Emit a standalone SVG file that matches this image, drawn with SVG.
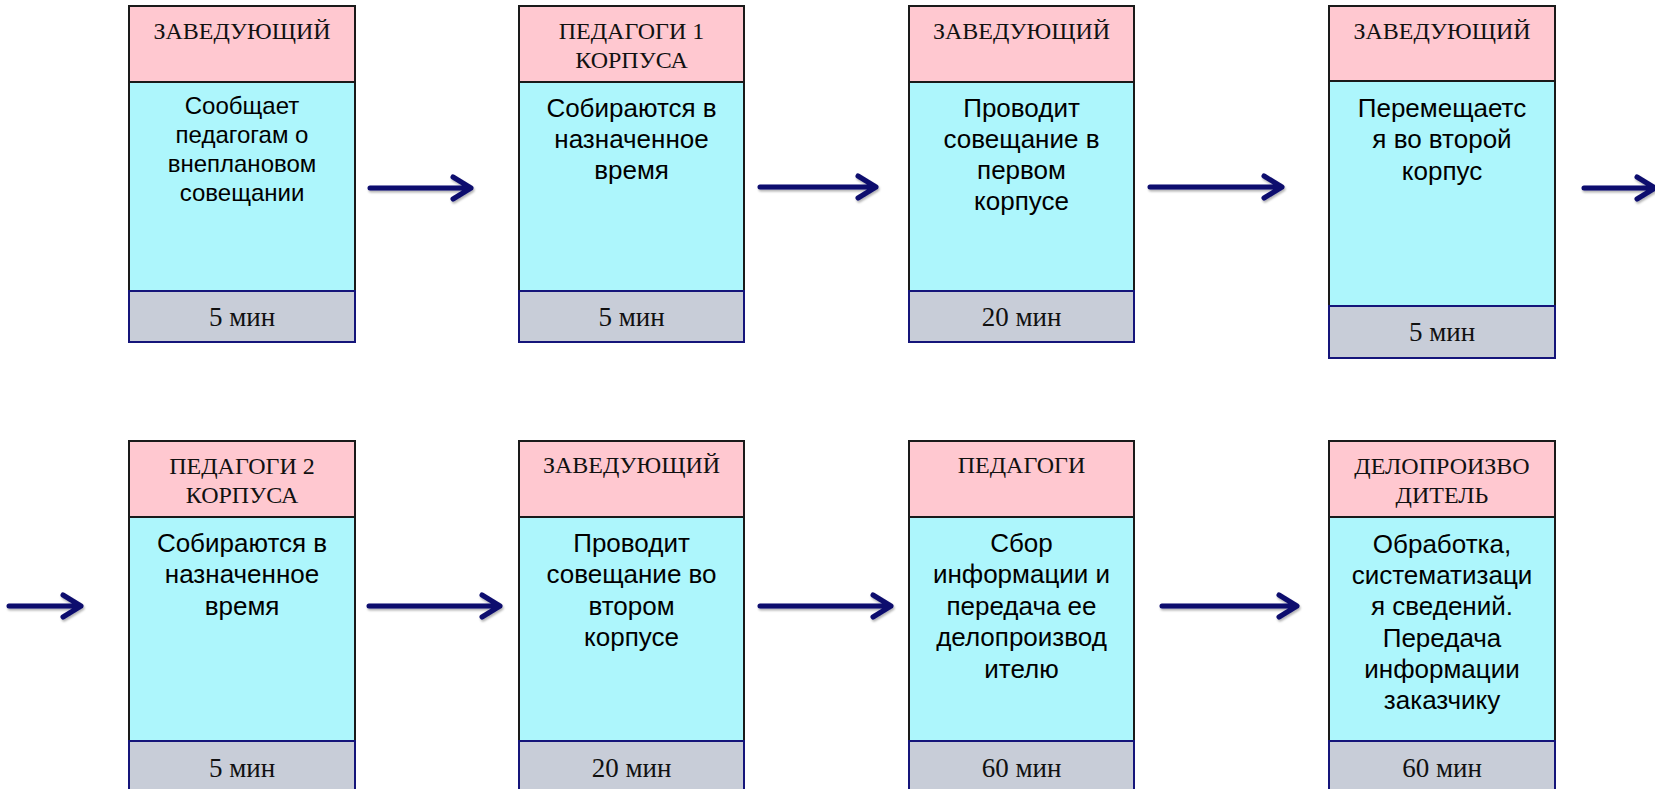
<svg xmlns="http://www.w3.org/2000/svg" width="1655" height="789" viewBox="0 0 1655 789">
<defs>
<style>
.hd{fill:#FFC8D0;stroke:#1a1a1a;stroke-width:2}
.bd{fill:#ADF6FC;stroke:#1a1a1a;stroke-width:2}
.ft{fill:#C8CDD8;stroke:#15157a;stroke-width:2}
.ht{font-family:"Liberation Serif","Times New Roman",serif;font-size:24px;fill:#111;text-anchor:middle}
.bt{font-family:"Liberation Sans",Arial,sans-serif;font-size:26px;fill:#000;text-anchor:middle}
.bs{font-size:24px}
.tt{font-family:"Liberation Serif","Times New Roman",serif;font-size:27px;fill:#111;text-anchor:middle}
.ar{fill:none;stroke:#0D0D6E;stroke-width:5;stroke-linecap:round;stroke-linejoin:round;filter:url(#sh)}
</style>
<filter id="sh" x="-10%" y="-50%" width="120%" height="200%">
<feDropShadow dx="1" dy="2" stdDeviation="1.2" flood-color="#000" flood-opacity="0.3"/>
</filter>
</defs>
<rect width="1655" height="789" fill="#fff"/>

<g id="n1">
<rect class="hd" x="129" y="6" width="226" height="76"/>
<rect class="bd" x="129" y="82" width="226" height="209"/>
<rect class="ft" x="129" y="291" width="226" height="51"/>
<text class="ht" x="242" y="39">ЗАВЕДУЮЩИЙ</text>
<text class="bt bs" x="242" y="114">Сообщает</text>
<text class="bt bs" x="242" y="143">педагогам о</text>
<text class="bt bs" x="242" y="172">внеплановом</text>
<text class="bt bs" x="242" y="201">совещании</text>
<text class="tt" x="242" y="326">5 мин</text>
</g>

<g id="n2">
<rect class="hd" x="519" y="6" width="225" height="76"/>
<rect class="bd" x="519" y="82" width="225" height="209"/>
<rect class="ft" x="519" y="291" width="225" height="51"/>
<text class="ht" x="631.5" y="39">ПЕДАГОГИ 1</text>
<text class="ht" x="631.5" y="68">КОРПУСА</text>
<text class="bt" x="631.5" y="117">Собираются в</text>
<text class="bt" x="631.5" y="148">назначенное</text>
<text class="bt" x="631.5" y="179">время</text>
<text class="tt" x="631.5" y="326">5 мин</text>
</g>

<g id="n3">
<rect class="hd" x="909" y="6" width="225" height="76"/>
<rect class="bd" x="909" y="82" width="225" height="209"/>
<rect class="ft" x="909" y="291" width="225" height="51"/>
<text class="ht" x="1021.5" y="39">ЗАВЕДУЮЩИЙ</text>
<text class="bt" x="1021.5" y="117">Проводит</text>
<text class="bt" x="1021.5" y="148">совещание в</text>
<text class="bt" x="1021.5" y="179">первом</text>
<text class="bt" x="1021.5" y="210">корпусе</text>
<text class="tt" x="1021.5" y="326">20 мин</text>
</g>

<g id="n4">
<rect class="hd" x="1329" y="6" width="226" height="75"/>
<rect class="bd" x="1329" y="81" width="226" height="225"/>
<rect class="ft" x="1329" y="306" width="226" height="52"/>
<text class="ht" x="1442" y="39">ЗАВЕДУЮЩИЙ</text>
<text class="bt" x="1442" y="117">Перемещаетс</text>
<text class="bt" x="1442" y="148">я во второй</text>
<text class="bt" x="1442" y="180">корпус</text>
<text class="tt" x="1442" y="341">5 мин</text>
</g>

<g id="n5">
<rect class="hd" x="129" y="441" width="226" height="76"/>
<rect class="bd" x="129" y="517" width="226" height="224"/>
<rect class="ft" x="129" y="741" width="226" height="60"/>
<text class="ht" x="242" y="474">ПЕДАГОГИ 2</text>
<text class="ht" x="242" y="503">КОРПУСА</text>
<text class="bt" x="242" y="552">Собираются в</text>
<text class="bt" x="242" y="583">назначенное</text>
<text class="bt" x="242" y="615">время</text>
<text class="tt" x="242" y="777">5 мин</text>
</g>

<g id="n6">
<rect class="hd" x="519" y="441" width="225" height="76"/>
<rect class="bd" x="519" y="517" width="225" height="224"/>
<rect class="ft" x="519" y="741" width="225" height="60"/>
<text class="ht" x="631.5" y="473">ЗАВЕДУЮЩИЙ</text>
<text class="bt" x="631.5" y="552">Проводит</text>
<text class="bt" x="631.5" y="583">совещание во</text>
<text class="bt" x="631.5" y="615">втором</text>
<text class="bt" x="631.5" y="646">корпусе</text>
<text class="tt" x="631.5" y="777">20 мин</text>
</g>

<g id="n7">
<rect class="hd" x="909" y="441" width="225" height="76"/>
<rect class="bd" x="909" y="517" width="225" height="224"/>
<rect class="ft" x="909" y="741" width="225" height="60"/>
<text class="ht" x="1021.5" y="473">ПЕДАГОГИ</text>
<text class="bt" x="1021.5" y="552">Сбор</text>
<text class="bt" x="1021.5" y="583">информации и</text>
<text class="bt" x="1021.5" y="615">передача ее</text>
<text class="bt" x="1021.5" y="646">делопроизвод</text>
<text class="bt" x="1021.5" y="678">ителю</text>
<text class="tt" x="1021.5" y="777">60 мин</text>
</g>

<g id="n8">
<rect class="hd" x="1329" y="441" width="226" height="76"/>
<rect class="bd" x="1329" y="517" width="226" height="224"/>
<rect class="ft" x="1329" y="741" width="226" height="60"/>
<text class="ht" x="1442" y="474">ДЕЛОПРОИЗВО</text>
<text class="ht" x="1442" y="503">ДИТЕЛЬ</text>
<text class="bt" x="1442" y="553">Обработка,</text>
<text class="bt" x="1442" y="584">систематизаци</text>
<text class="bt" x="1442" y="615">я сведений.</text>
<text class="bt" x="1442" y="647">Передача</text>
<text class="bt" x="1442" y="678">информации</text>
<text class="bt" x="1442" y="709">заказчику</text>
<text class="tt" x="1442" y="777">60 мин</text>
</g>

<g id="connectors">
<path class="ar" d="M370 188H471M453 177L471 188L453 199"/>
<path class="ar" d="M760 187H876M858 176L876 187L858 198"/>
<path class="ar" d="M1150 187H1282M1264 176L1282 187L1264 198"/>
<path class="ar" d="M1584 188H1653M1637 177L1655 188L1637 199"/>
<path class="ar" d="M9 606H81M63 595L81 606L63 617"/>
<path class="ar" d="M369 606H500M482 595L500 606L482 617"/>
<path class="ar" d="M760 606H891M873 595L891 606L873 617"/>
<path class="ar" d="M1162 606H1297M1279 595L1297 606L1279 617"/>
</g>
</svg>
